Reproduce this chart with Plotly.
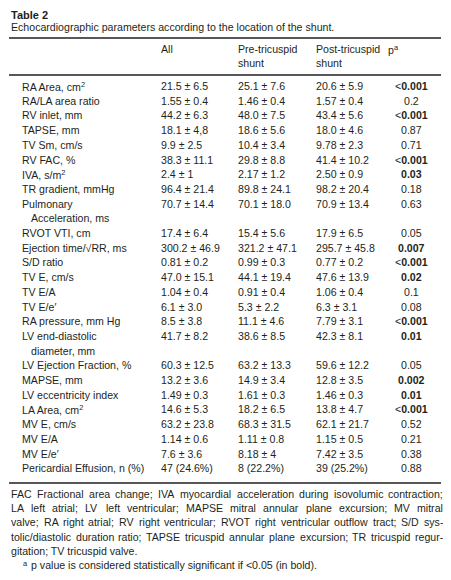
import plotly.graph_objects as go

title = "Table 2"
caption = "Echocardiographic parameters according to the location of the shunt."

labels = [
    ["RA Area, cm<sup>2</sup>"],
    ["RA/LA area ratio"],
    ["RV inlet, mm"],
    ["TAPSE, mm"],
    ["TV Sm, cm/s"],
    ["RV FAC, %"],
    ["IVA, s/m<sup>2</sup>"],
    ["TR gradient, mmHg"],
    ["Pulmonary", "Acceleration, ms"],
    ["RVOT VTI, cm"],
    ["Ejection time/\u221aRR, ms"],
    ["S/D ratio"],
    ["TV E, cm/s"],
    ["TV E/A"],
    ["TV E/e\u2032"],
    ["RA pressure, mm Hg"],
    ["LV end-diastolic", "diameter, mm"],
    ["LV Ejection Fraction, %"],
    ["MAPSE, mm"],
    ["LV eccentricity index"],
    ["LA Area, cm<sup>2</sup>"],
    ["MV E, cm/s"],
    ["MV E/A"],
    ["MV E/e\u2032"],
    ["Pericardial Effusion, n (%)"],
]
all_vals = ["21.5 \u00b1 6.5", "1.55 \u00b1 0.4", "44.2 \u00b1 6.3", "18.1 \u00b1 4,8", "9.9 \u00b1 2.5",
            "38.3 \u00b1 11.1", "2.4 \u00b1 1", "96.4 \u00b1 21.4", "70.7 \u00b1 14.4", "17.4 \u00b1 6.4",
            "300.2 \u00b1 46.9", "0.81 \u00b1 0.2", "47.0 \u00b1 15.1", "1.04 \u00b1 0.4", "6.1 \u00b1 3.0",
            "8.5 \u00b1 3.8", "41.7 \u00b1 8.2", "60.3 \u00b1 12.5", "13.2 \u00b1 3.6", "1.49 \u00b1 0.3",
            "14.6 \u00b1 5.3", "63.2 \u00b1 23.8", "1.14 \u00b1 0.6", "7.6 \u00b1 3.6", "47 (24.6%)"]
pre_vals = ["25.1 \u00b1 7.6", "1.46 \u00b1 0.4", "48.0 \u00b1 7.5", "18.6 \u00b1 5.6", "10.4 \u00b1 3.4",
            "29.8 \u00b1 8.8", "2.17 \u00b1 1.2", "89.8 \u00b1 24.1", "70.1 \u00b1 18.0", "15.4 \u00b1 5.6",
            "321.2 \u00b1 47.1", "0.99 \u00b1 0.3", "44.1 \u00b1 19.4", "0.91 \u00b1 0.4", "5.3 \u00b1 2.2",
            "11.1 \u00b1 4.6", "38.6 \u00b1 8.5", "63.2 \u00b1 13.3", "14.9 \u00b1 3.4", "1.61 \u00b1 0.3",
            "18.2 \u00b1 6.5", "68.3 \u00b1 31.5", "1.11 \u00b1 0.8", "8.18 \u00b1 4", "8 (22.2%)"]
post_vals = ["20.6 \u00b1 5.9", "1.57 \u00b1 0.4", "43.4 \u00b1 5.6", "18.0 \u00b1 4.6", "9.78 \u00b1 2.3",
             "41.4 \u00b1 10.2", "2.50 \u00b1 0.9", "98.2 \u00b1 20.4", "70.9 \u00b1 13.4", "17.9 \u00b1 6.5",
             "295.7 \u00b1 45.8", "0.77 \u00b1 0.2", "47.6 \u00b1 13.9", "1.06 \u00b1 0.4", "6.3 \u00b1 3.1",
             "7.79 \u00b1 3.1", "42.3 \u00b1 8.1", "59.6 \u00b1 12.2", "12.8 \u00b1 3.5", "1.46 \u00b1 0.3",
             "13.8 \u00b1 4.7", "62.1 \u00b1 21.7", "1.15 \u00b1 0.5", "7.42 \u00b1 3.5", "39 (25.2%)"]
p_vals = ["<0.001", "0.2", "<0.001", "0.87", "0.71", "<0.001", "0.03", "0.18", "0.63", "0.05",
          "0.007", "<0.001", "0.02", "0.1", "0.08", "<0.001", "0.01", "0.05", "0.002", "0.01",
          "<0.001", "0.52", "0.21", "0.38", "0.88"]

footnote_lines = [
    "FAC Fractional area change; IVA myocardial acceleration during isovolumic contraction;",
    "LA left atrial; LV left ventricular; MAPSE mitral annular plane excursion; MV mitral",
    "valve; RA right atrial; RV right ventricular; RVOT right ventricular outflow tract; S/D sys-",
    "tolic/diastolic duration ratio; TAPSE tricuspid annular plane excursion; TR tricuspid regur-",
    "gitation; TV tricuspid valve.",
]
sig_note = "p value is considered statistically significant if &lt;0.05 (in bold)."

FONT = "Liberation Sans"
COLOR = "#231f20"
FS = 10.6

W, H = 451, 580
BODY = 8  # default page margin around the plot div

fig = go.Figure()
ann = []

# Arial / Liberation Sans advance widths (per 1000 em) for justification
_AW = {' ': 278, ';': 278, ',': 278, '.': 278, '/': 278, '-': 333, '(': 333, ')': 333}
_AW.update({c: 556 for c in "0123456789abdeghnopqu_"})
_AW.update({'c': 500, 'k': 500, 's': 500, 'v': 500, 'x': 500, 'y': 500, 'z': 500,
            'f': 278, 't': 278, 'i': 222, 'j': 222, 'l': 222, 'm': 833, 'r': 333, 'w': 722,
            'A': 667, 'B': 667, 'C': 722, 'D': 722, 'E': 667, 'F': 611, 'G': 778, 'H': 722,
            'I': 278, 'J': 500, 'K': 667, 'L': 556, 'M': 833, 'N': 722, 'O': 778, 'P': 667,
            'Q': 778, 'R': 722, 'S': 667, 'T': 611, 'U': 722, 'V': 667, 'W': 944, 'X': 667,
            'Y': 667, 'Z': 611})


def text_w(s, size):
    return sum(_AW.get(c, 556) for c in s) * size / 1000.0


def add(text, x, y, size=FS, xanchor="left", bold=False):
    t = f"<b>{text}</b>" if bold else text
    ann.append(dict(text=t, x=x, y=y, xref="x", yref="y", xanchor=xanchor, yanchor="middle",
                    showarrow=False, font=dict(family=FONT, size=size, color=COLOR)))


def add_justified(text, x0, x1, y, size=FS):
    words = text.split(" ")
    widths = [text_w(w, size) for w in words]
    gap = (x1 - x0 - sum(widths)) / (len(words) - 1)
    x = x0
    for w, wd in zip(words, widths):
        add(w, x, y, size=size)
        x += wd + gap


add(title, 9, 14.5, size=11, bold=True)
add(caption, 9, 27)

# headers
add("All", 159, 49)
add("Pre-tricuspid", 236, 49)
add("shunt", 236, 63)
add("Post-tricuspid", 314, 49)
add("shunt", 314, 63)
add("p<sup>a</sup>", 386, 49)


def fmt_p(p):
    if p.startswith("<"):
        return "&lt;<b>" + p[1:] + "</b>"
    return f"<b>{p}</b>" if float(p) < 0.05 else p


y0, dy = 86, 14.7
line = 0
for i, lab in enumerate(labels):
    y = y0 + dy * line
    add(lab[0], 20, y)
    for k, extra in enumerate(lab[1:], start=1):
        add(extra, 29, y + dy * k)
    add(all_vals[i], 159, y)
    add(pre_vals[i], 236, y)
    add(post_vals[i], 314, y)
    add(fmt_p(p_vals[i]), 411, y, xanchor="center")
    line += len(lab)

fy0, fdy = 494, 14.2
for j, t in enumerate(footnote_lines):
    if j < len(footnote_lines) - 1:
        add_justified(t, 9, 441, fy0 + fdy * j)
    else:
        add(t, 9, fy0 + fdy * j)
add("<sup>a</sup>", 21, 563)
add(sig_note, 29, 565)

shapes = [
    dict(type="line", xref="x", yref="y", x0=9, x1=441, y0=38, y1=38, line=dict(color=COLOR, width=1.7)),
    dict(type="line", xref="x", yref="y", x0=9, x1=441, y0=75, y1=75, line=dict(color=COLOR, width=1.5)),
    dict(type="line", xref="x", yref="y", x0=9, x1=441, y0=483, y1=483, line=dict(color=COLOR, width=1.5)),
]

fig.update_layout(
    width=W - BODY, height=H - BODY, margin=dict(l=0, r=0, t=0, b=0),
    paper_bgcolor="white", plot_bgcolor="white",
    xaxis=dict(range=[BODY, W], visible=False, fixedrange=True),
    yaxis=dict(range=[H, BODY], visible=False, fixedrange=True),
    annotations=ann, shapes=shapes, showlegend=False,
)
fig.write_html("out.html")
